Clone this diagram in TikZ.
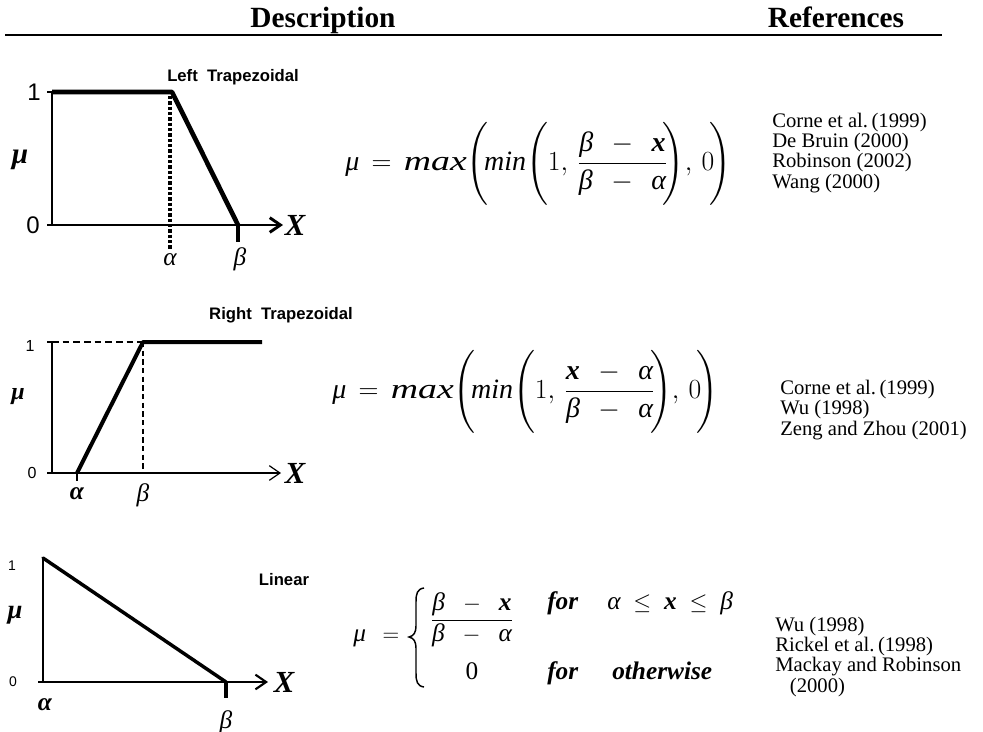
\documentclass[tikz,border=0pt]{standalone}
\usepackage{amsmath}
\usepackage{graphicx}
\usepackage{fontspec}
\setmainfont{Liberation Serif}
\newfontfamily\arial{Liberation Sans}
\usetikzlibrary{arrows.meta}
\newcommand\ital[1]{\text{\itshape #1}}
\newcommand\bit[1]{\text{\bfseries\itshape #1}}
\newcommand\wmax{\text{\itshape\scalebox{1.35}[1]{max}}}
\newcommand\mminus{\;\,-\;\,}
\newcommand\dk{\mkern-3mu}
\tikzset{
  hdr/.style={font=\bfseries\fontsize{22}{24}\selectfont, anchor=base, inner sep=0pt},
  ttl/.style={font=\arial\bfseries\fontsize{12.5}{14}\selectfont},
  refs/.style={anchor=west, align=left, font=\fontsize{15.5}{13.8}\selectfont, inner sep=0pt},
  mulab/.style={font=\bfseries\itshape\fontsize{#1}{24}\selectfont, inner sep=0pt},
  xlab/.style={font=\bfseries\itshape\fontsize{23}{24}\selectfont, inner sep=0pt},
  grk/.style={font=\itshape\fontsize{19}{20}\selectfont, inner sep=0pt},
  bgrk/.style={font=\bfseries\itshape\fontsize{19}{20}\selectfont, inner sep=0pt},
  num/.style={font=\arial\fontsize{#1}{20}\selectfont, inner sep=0pt},
  arr/.style={-{Straight Barb[length=8pt,width=11pt]}},
  fml/.style={anchor=west, inner sep=0pt, font=\fontsize{21}{24}\selectfont},
  fmlc/.style={inner sep=0pt, font=\fontsize{19}{22}\selectfont},
}
\begin{document}
\begin{tikzpicture}[x=0.75pt,y=-0.75pt]
\useasboundingbox (0,0) rectangle (983,732);
% header
\node[hdr] (hdesc) at (323,27) {Description};
\node[hdr] (hrefs) at (836,27) {References};
\coordinate (hl) at (5,35);
\coordinate (hr) at (942,35);
\draw[line width=1.8pt] (hl) -- (hr);

% ---------- chart 1: left trapezoidal
\node[ttl] (t1) at (233,77) {Left~ Trapezoidal};
\coordinate (A1o) at (52,225);
\coordinate (A1t) at (52,92);
\coordinate (A1c) at (172,92);
\coordinate (A1b) at (238,225);
\coordinate (A1x) at (283,225);
\coordinate (A1as) at (170,96);
\coordinate (A1ad) at (170,250);
\coordinate (A1bd) at (238,242);
\draw[line width=2.2pt] (A1t) -- (A1o);
\draw[line width=2.2pt, arr] (A1o) -- (A1x);
\draw[line width=1pt] (A1t) -- ++(-5,0);
\draw[line width=1pt] (A1o) -- ++(-5,0);
\draw[line width=3.5pt, line join=round] (A1t) -- (A1c) -- (A1b);
\draw[line width=2.4pt, dash pattern=on 2.5pt off 1.5pt] (A1as) -- (A1ad);
\draw[line width=3.5pt] (A1b) -- (A1bd);
\node[num=18] (n1a) at (34,92) {1};
\node[num=18] (n1b) at (33,225) {0};
\node[mulab=22] (mu1) at (20,160) {μ};
\node[xlab] (X1) at (295,225) {X};
\node[grk] (al1) at (170,260) {α};
\node[grk] (be1) at (240,259) {β};

% formula 1
\node[fml] (f1) at (345,164) {$\ital{μ}\,=\,\wmax\!\left(\rule[-28pt]{0pt}{66pt}\dk\ital{min}\!\left(\rule[-24pt]{0pt}{58pt}\dk\,1,\, \dfrac{\ital{β}\mminus\bit{x}}{\ital{β}\mminus\ital{α}}\dk\right)\!,\,0\dk\right)$};
\node[refs] (r1) at (772,153) {Corne et al.\,(1999)\\De Bruin (2000)\\Robinson (2002)\\Wang (2000)};

% ---------- chart 2: right trapezoidal
\node[ttl] (t2) at (281,315) {Right~ Trapezoidal};
\coordinate (B1o) at (52,473);
\coordinate (B1t) at (52,342);
\coordinate (B1a) at (77,473);
\coordinate (B1c) at (143,342);
\coordinate (B1e) at (262,342);
\coordinate (B1x) at (281,473);
\coordinate (B1bb) at (143,473);
\coordinate (B1ad) at (77,481);
\draw[line width=0.9pt] (B1t) -- (B1o);
\draw[line width=0.9pt, arr] (B1o) -- (B1x);
\draw[line width=0.8pt] (B1t) -- ++(-5,0);
\draw[line width=0.8pt] (B1o) -- ++(-5,0);
\draw[line width=1.6pt, dash pattern=on 5pt off 3pt] (B1t) -- (B1c);
\draw[line width=0.8pt, dash pattern=on 4pt off 2.5pt] (B1c) -- (B1bb);
\draw[line width=3pt, line join=round] (B1a) -- (B1c) -- (B1e);
\draw[line width=0.8pt] (B1a) -- (B1ad);
\node[num=12] (n2a) at (30,346) {1};
\node[num=12] (n2b) at (32,473) {0};
\node[mulab=18] (mu2) at (18,397) {μ};
\node[xlab] (X2) at (295,473) {X};
\node[bgrk] (al2) at (77,494) {α};
\node[grk] (be2) at (143,495) {β};

% formula 2
\node[fml] (f2) at (332,392) {$\ital{μ}\,=\,\wmax\!\left(\rule[-28pt]{0pt}{66pt}\dk\ital{min}\!\left(\rule[-24pt]{0pt}{58pt}\dk\,1,\, \dfrac{\bit{x}\mminus\ital{α}}{\ital{β}\mminus\ital{α}}\dk\right)\!,\,0\dk\right)$};
\node[refs] (r2) at (780,410) {Corne et al.\,(1999)\\Wu (1998)\\Zeng and Zhou (2001)};

% ---------- chart 3: linear
\node[ttl] (t3) at (284,580) {Linear};
\coordinate (C1o) at (43,682);
\coordinate (C1t) at (43,558);
\coordinate (C1b) at (226,682);
\coordinate (C1x) at (268,682);
\coordinate (C1bd) at (226,698);
\draw[line width=1.6pt] (C1t) -- (C1o);
\draw[line width=1.6pt, arr] (C1o) -- (C1x);
\draw[line width=0.8pt] (C1o) -- ++(-5,0);
\draw[line width=2.6pt, line cap=round] (C1t) -- (C1b);
\draw[line width=2.6pt] (C1b) -- (C1bd);
\node[num=10.5] (n3a) at (12,566) {1};
\node[num=10.5] (n3b) at (13,682) {0};
\node[mulab=20] (mu3) at (15,615) {μ};
\node[xlab] (X3) at (284,682) {X};
\node[bgrk] (al3) at (45,705) {α};
\node[grk] (be3) at (226,722) {β};

% formula 3
\node[fmlc, anchor=base west] (f3mu) at (353,641) {$\ital{μ}\;\,=$};
\draw[line width=1.1pt] (424,588) .. controls (417,589) and (416,594) .. (416,602) -- (416,626)
  .. controls (416,632) and (414,636) .. (409,637) .. controls (414,638) and (416,642) .. (416,648)
  -- (416,673) .. controls (416,681) and (417,686) .. (424,687);
\node[fmlc] (f3fr) at (472,620) {$\dfrac{\ital{β}\;\;-\;\;\bit{x}}{\ital{β}\;\;-\;\;\ital{α}}$};
\node[fmlc, anchor=base] (f3z) at (472,679) {0};
\node[fmlc, anchor=base west] (f3for1) at (547,609) {\bfseries\itshape for};
\node[fmlc, anchor=base west] (f3cond) at (607,609) {$\ital{α}\;\le\;\bit{x}\;\le\;\ital{β}$};
\node[fmlc, anchor=base west] (f3for2) at (547,679) {\bfseries\itshape for};
\node[fmlc, anchor=base west] (f3oth) at (612,679) {\bfseries\itshape otherwise};
\node[refs] (r3) at (775,657) {Wu (1998)\\Rickel et al.\,(1998)\\Mackay and Robinson\\\hspace*{11pt}(2000)};
\end{tikzpicture}
\end{document}
